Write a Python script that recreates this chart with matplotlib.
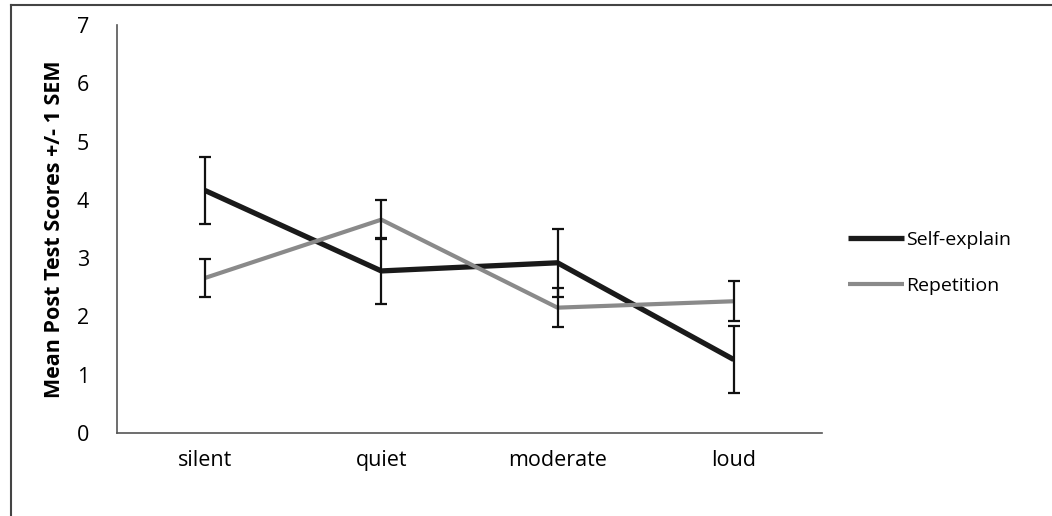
import matplotlib
matplotlib.use("Agg")
import matplotlib.pyplot as plt
import numpy as np

plt.rcParams['font.family'] = ['Open Sans', 'DejaVu Sans']

conditions = ["silent", "quiet", "moderate", "loud"]
self_explain = [4.16, 2.78, 2.92, 1.26]
self_explain_sem = [0.58, 0.57, 0.58, 0.58]
repetition = [2.66, 3.66, 2.15, 2.26]
repetition_sem = [0.33, 0.34, 0.33, 0.34]

fig = plt.figure(figsize=(10.52, 5.16), dpi=100)
ax = fig.add_axes([0.1112, 0.1609, 0.670, 0.7907])

x = np.arange(len(conditions))
l1, = ax.plot(x, self_explain, color="#1a1a1a", lw=3.8, zorder=2, label="Self-explain",
              solid_capstyle="butt")
l2, = ax.plot(x, repetition, color="#8a8a8a", lw=3.0, zorder=2, label="Repetition",
              solid_capstyle="butt")
ax.errorbar(x, self_explain, yerr=self_explain_sem, fmt="none", ecolor="#111111",
            elinewidth=1.6, capsize=4.6, capthick=1.6, zorder=3)
ax.errorbar(x, repetition, yerr=repetition_sem, fmt="none", ecolor="#111111",
            elinewidth=1.6, capsize=4.6, capthick=1.6, zorder=3)

ax.set_xlim(-0.5, len(conditions) - 0.5)
ax.set_ylim(0, 7)
ax.set_yticks(range(0, 8))
ax.set_xticks(x)
ax.set_xticklabels(conditions)
ax.tick_params(axis="both", length=0, labelsize=15.5)
ax.tick_params(axis="y", pad=20)
ax.tick_params(axis="x", pad=12)
for s in ["top", "right"]:
    ax.spines[s].set_visible(False)
for s in ["left", "bottom"]:
    ax.spines[s].set_color("#555555")
    ax.spines[s].set_linewidth(1.2)

ax.set_ylabel("Mean Post Test Scores +/- 1 SEM", fontsize=15.5, fontweight="bold")
ax.yaxis.set_label_coords(-0.074, 0.5)

ax.legend(handles=[l1, l2], loc="center left", bbox_to_anchor=(1.037, 0.417), frameon=False,
          fontsize=14, handlelength=2.9, handletextpad=0.1, labelspacing=1.45,
          borderpad=0, borderaxespad=0)

# outer frame of the original figure
fig.add_artist(plt.Line2D([0.0105, 1.0], [0.99, 0.99], transform=fig.transFigure,
                          color="#444444", lw=1.5))
fig.add_artist(plt.Line2D([0.0105, 0.0105], [0.0, 0.99], transform=fig.transFigure,
                          color="#444444", lw=1.5))

fig.savefig("out.png", dpi=100)
